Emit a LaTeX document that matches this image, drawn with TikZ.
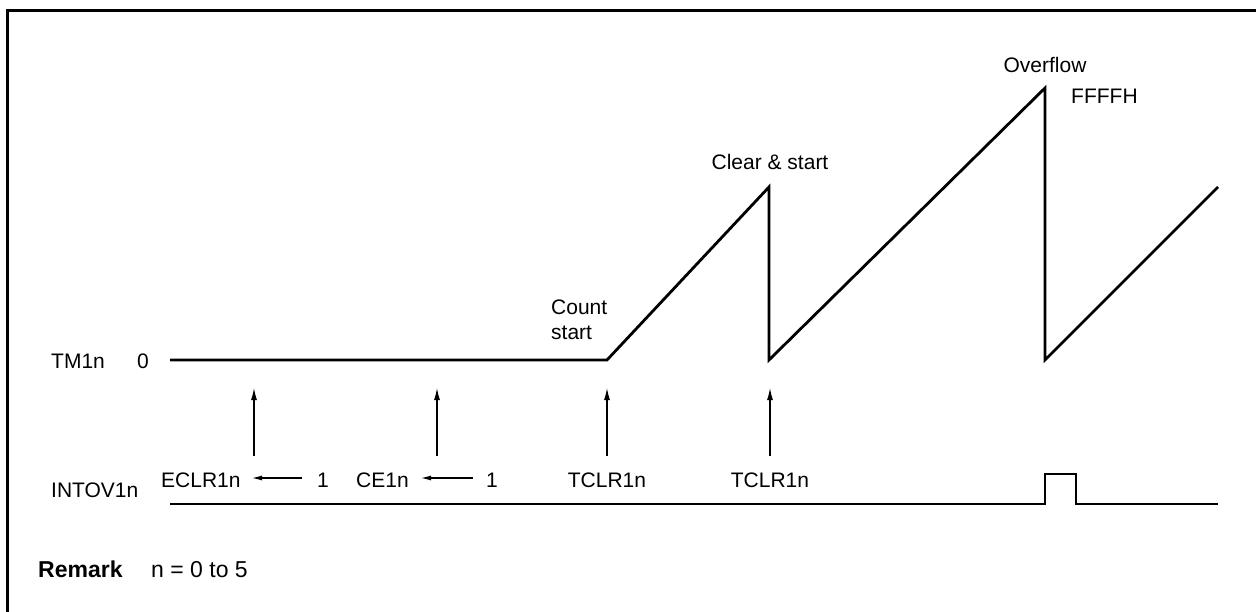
\documentclass[tikz,border=0pt]{standalone}
\usepackage{fontspec}
\setmainfont{Liberation Sans}
\usetikzlibrary{arrows.meta}
\begin{document}
\begin{tikzpicture}[x=1pt,y=-1pt,
  lbl/.style={inner sep=0pt, font=\fontsize{21}{24}\selectfont},
  remfont/.style={font=\fontsize{23}{26}\selectfont},
  rembold/.style={font=\fontsize{23}{26}\selectfont\bfseries},
  wave/.style={line width=2.8pt, line join=miter},
  uparrow/.style={line width=1.1pt, -{Latex[length=12pt,width=6pt]}},
  setarrow/.style={line width=1.1pt, -{Latex[length=10pt,width=5pt]}},
  frame/.style={line width=3pt}]
\useasboundingbox (0,0) rectangle (1256,612);
% frame (top and left edges)
\draw[frame] (7,612) -- (7,11) -- (1256,11);

% TM1n waveform points
\coordinate (t0) at (170,360);
\coordinate (cs) at (607,360);
\coordinate (p1) at (769,187);
\coordinate (b1) at (769,360);
\coordinate (p2) at (1045,88);
\coordinate (b2) at (1045,360);
\coordinate (t3) at (1218,187);
\draw[wave] (t0) -- (cs) -- (p1) -- (b1) -- (p2) -- (b2) -- (t3);

% INTOV1n waveform
\coordinate (i0) at (170,504);
\coordinate (iu) at (1045,504);
\coordinate (iut) at (1045,474);
\coordinate (idt) at (1076,474);
\coordinate (id) at (1076,504);
\coordinate (i3) at (1218,504);
\draw[wave] (i0) -- (iu) -- (iut) -- (idt) -- (id) -- (i3);

% labels
\node[lbl, anchor=base west] (tm) at (51,368) {TM1n};
\node[lbl, anchor=base] (zero) at (143,368) {0};
\node[lbl, anchor=base west] (intov) at (51,497) {INTOV1n};
\node[lbl, anchor=base west] (count) at (551,315) {Count};
\node[lbl, anchor=base west] (start) at (551,340) {start};
\node[lbl, anchor=base] (clr) at (770,170) {Clear \& start};
\node[lbl, anchor=base] (ovf) at (1045,73) {Overflow};
\node[lbl, anchor=base west] (ffff) at (1071,104) {FFFFH};

\node[lbl, anchor=base west] (eclr) at (161,487) {ECLR1n};
\node[lbl, anchor=base] (one1) at (323,487) {1};
\node[lbl, anchor=base west] (ce) at (356,487) {CE1n};
\node[lbl, anchor=base] (one2) at (492,487) {1};
\node[lbl, anchor=base] (tclr1) at (607,487) {TCLR1n};
\node[lbl, anchor=base] (tclr2) at (770,487) {TCLR1n};

\node[lbl, rembold, anchor=base west] (rem) at (38,577) {Remark};
\node[lbl, remfont, anchor=base west] (remtxt) at (151,577) {n = 0 to 5};

% set arrows
\coordinate (e1s) at (302,478);
\coordinate (e1e) at (252,478);
\coordinate (e2s) at (473,478);
\coordinate (e2e) at (421,478);
\draw[setarrow] (e1s) -- (e1e);
\draw[setarrow] (e2s) -- (e2e);

% up arrows
\foreach \n/\x in {a1/254, a2/437, a3/607, a4/770} {
  \coordinate (\n s) at (\x,456);
  \coordinate (\n e) at (\x,388);
  \draw[uparrow] (\n s) -- (\n e);
}
\end{tikzpicture}
\end{document}
